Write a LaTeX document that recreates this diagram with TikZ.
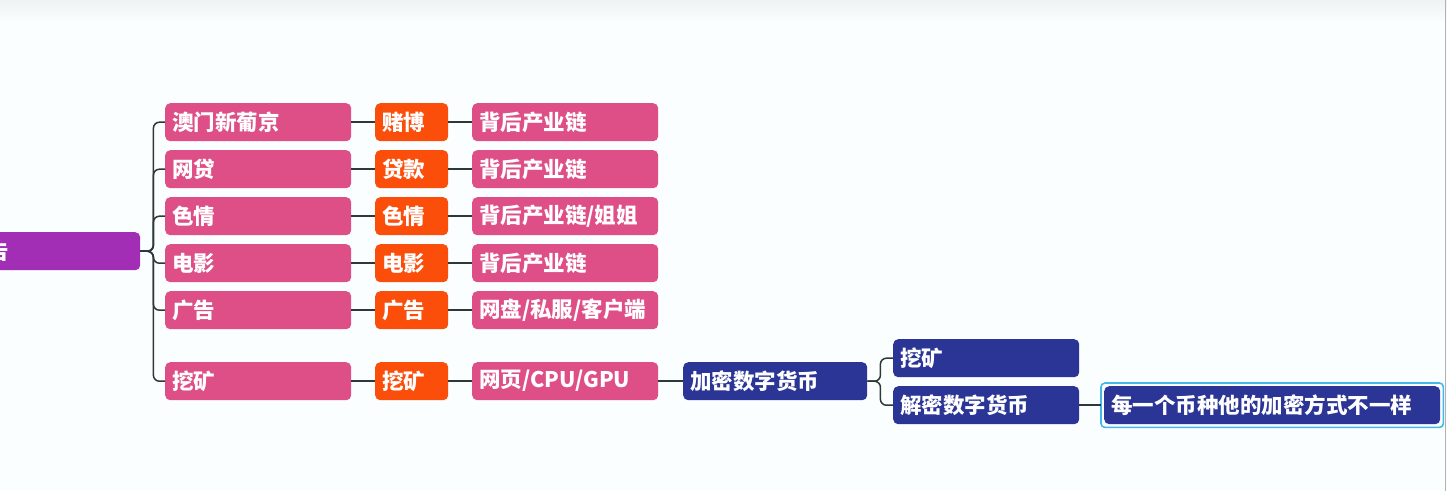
\documentclass[tikz,border=0pt]{standalone}
\usepackage{fontspec}
\setmainfont{Noto Sans CJK SC}
\usetikzlibrary{calc}
\definecolor{pinkc}{HTML}{DD4F86}
\definecolor{orangec}{HTML}{FC4E0B}
\definecolor{bluec}{HTML}{2A3596}
\definecolor{purplec}{HTML}{A22EB5}
\definecolor{linec}{HTML}{2F3838}
\definecolor{bgc}{HTML}{FAFEFE}
\definecolor{topc}{HTML}{EFF3F3}
\definecolor{selc}{HTML}{45B8EA}
\tikzset{
  basebox/.style={anchor=north west, rounded corners=5pt, text=white, font=\bfseries\fontsize{21.5}{23}\selectfont, inner xsep=7pt, inner ysep=0pt, minimum height=38pt, align=left},
  pinkbox/.style={basebox, fill=pinkc, text width=172pt},
  orangebox/.style={basebox, fill=orangec, text width=59pt},
  bluebox/.style={basebox, fill=bluec, text width=#1},
  purplebox/.style={basebox, fill=purplec, text width=146pt},
  conn/.style={draw=linec, line width=1.5pt, rounded corners=6pt},
  selbox/.style={draw=selc, line width=1.6pt, rounded corners=4pt}
}
\begin{document}
\begin{tikzpicture}[x=1pt,y=-1pt]
\useasboundingbox (0,0) rectangle (1447,491);
\fill[bgc] (0,0) rectangle (1447,491);
\shade[top color=topc, bottom color=bgc] (0,0) rectangle (1447,22);
\draw[gray!60, line width=0.8pt] (1445.5,0) -- (1445.5,491);
% root
\node[purplebox] (root) at (-20,232) {告};
% column 1
\node[pinkbox] (a1) at (165,103) {澳门新葡京};
\node[pinkbox] (a2) at (165,150) {网贷};
\node[pinkbox] (a3) at (165,197) {色情};
\node[pinkbox] (a4) at (165,244) {电影};
\node[pinkbox] (a5) at (165,291) {广告};
\node[pinkbox] (a6) at (165,362) {挖矿};
% column 2
\node[orangebox] (b1) at (375,103) {赌博};
\node[orangebox] (b2) at (375,150) {贷款};
\node[orangebox] (b3) at (375,197) {色情};
\node[orangebox] (b4) at (375,244) {电影};
\node[orangebox] (b5) at (375,291) {广告};
\node[orangebox] (b6) at (375,362) {挖矿};
% column 3
\node[pinkbox] (c1) at (472,103) {背后产业链};
\node[pinkbox] (c2) at (472,150) {背后产业链};
\node[pinkbox] (c3) at (472,197) {背后产业链/姐姐};
\node[pinkbox] (c4) at (472,244) {背后产业链};
\node[pinkbox] (c5) at (472,291) {网盘/私服/客户端};
\node[pinkbox] (c6) at (472,362) {网页/CPU/GPU};
% blue
\node[bluebox=170pt] (d1) at (683,362) {加密数字货币};
\node[bluebox=172pt] (e1) at (893,339) {挖矿};
\node[bluebox=172pt] (e2) at (893,386) {解密数字货币};
\node[bluebox=322pt] (f1) at (1104,386) {每一个币种他的加密方式不一样};
\draw[selbox] ($(f1.north west)+(-3,-3)$) rectangle ($(f1.south east)+(3,3)$);
% connectors
\foreach \i in {1,...,6}{
  \draw[conn] (root.east) -- ++(13,0) |- (a\i.west);
  \draw[conn] (a\i.east) -- (b\i.west);
  \draw[conn] (b\i.east) -- (c\i.west);
}
\draw[conn] (c6.east) -- (d1.west);
\draw[conn] (d1.east) -- ++(13,0) |- (e1.west);
\draw[conn] (d1.east) -- ++(13,0) |- (e2.west);
\draw[conn] (e2.east) -- ($(f1.west)+(-3,0)$);
\end{tikzpicture}
\end{document}
